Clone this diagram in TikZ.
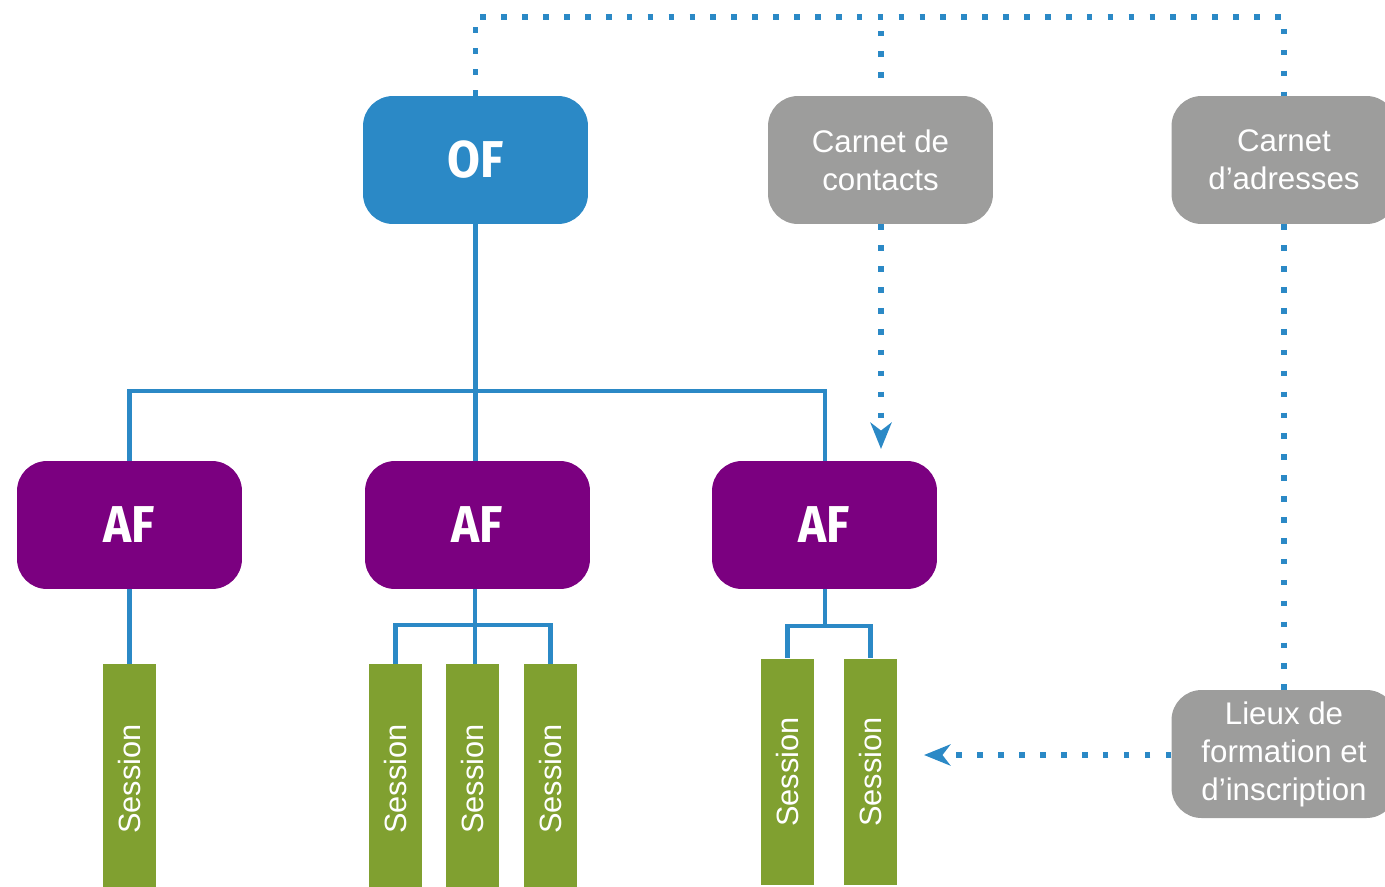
\documentclass[tikz,border=0pt]{standalone}
\usepackage{fontspec}
\usepackage{graphicx}
\setmainfont{Liberation Sans}
\newfontfamily\heavyfont{Fira Sans}[FakeStretch=0.92]
\usetikzlibrary{arrows.meta}
\definecolor{ofblue}{RGB}{43,137,198}
\definecolor{afpurple}{RGB}{123,0,128}
\definecolor{sessgreen}{RGB}{128,160,48}
\definecolor{boxgray}{RGB}{157,157,156}
\tikzset{
  bigbox/.style={rounded corners=0.6cm, minimum width=4.5cm, minimum height=2.56cm, inner sep=0pt, text=white},
  ofbox/.style={bigbox, fill=ofblue, font=\heavyfont\bfseries\fontsize{29.5}{32}\selectfont},
  afbox/.style={bigbox, fill=afpurple, font=\heavyfont\bfseries\fontsize{29.5}{32}\selectfont},
  graybox/.style={bigbox, fill=boxgray, align=center, font=\fontsize{17.8}{21.6}\selectfont},
  sessbox/.style={fill=sessgreen, minimum width=1.06cm, inner sep=0pt, text=white, font=\fontsize{17.5}{21}\selectfont},
  conn/.style={draw=ofblue, line width=2.3pt},
  dots/.style={draw=ofblue, line width=3.2pt, dash pattern=on 3.2pt off 8.7pt},
  dotarrow/.style={dots, -{Stealth[length=15pt, width=12pt, inset=4.5pt, fill=ofblue]}}
}
\begin{document}
\begin{tikzpicture}[x=0.02cm,y=-0.02cm]
\useasboundingbox (0,0) rectangle (1385,886);
\clip (0,0) rectangle (1385,886);
% main boxes
\node[ofbox] (of) at (475.5,160) {OF};
\node[graybox] (cc) at (880.5,160) {Carnet de\\contacts};
\node[graybox] (adr) at (1284,160) {Carnet\\d’adresses};
\node[graybox] (lieux) at (1284,754) {Lieux de\\formation et\\d’inscription};
\node[afbox] (af1) at (129.5,525) {AF};
\node[afbox] (af2) at (477.5,525) {AF};
\node[afbox] (af3) at (824.5,525) {AF};
% sessions
\tikzset{sessA/.style={sessbox, minimum height=4.6cm}, sessB/.style={sessbox, minimum height=4.54cm}}
\node[sessA] (s11) at (129.5,779) {\rotatebox{90}{Session}};
\node[sessA] (s21) at (395.5,779) {\rotatebox{90}{Session}};
\node[sessA] (s22) at (472.5,779) {\rotatebox{90}{Session}};
\node[sessA] (s23) at (550.5,779) {\rotatebox{90}{Session}};
\node[sessB] (s31) at (787.5,772) {\rotatebox{90}{Session}};
\node[sessB] (s32) at (870.5,772) {\rotatebox{90}{Session}};
% helper coordinates
\coordinate (hbar) at (475,391);
\coordinate (b2) at (475,625);
\coordinate (b3) at (825,626);
\coordinate (top) at (475,17);
\coordinate (ccstub) at (881,78);
\coordinate (af3in) at (881,449);
\coordinate (sessin) at (924,755);
% solid tree connectors
\draw[conn] (of.south) -- (of.south |- af2.north);
\draw[conn] (af1.north) |- (hbar) -| (825,461);
\draw[conn] (af1.south) -- (s11.north);
\draw[conn] (475,589) -- (475,664);
\draw[conn] (s21.north) |- (b2) -| (s23.north);
\draw[conn] (825,589) -- (b3);
\draw[conn] (s31.north) |- (b3) -| (s32.north);
% dotted links
\draw[dots] (of.north) -- (of.north |- top) -| (adr.north);
\draw[dots] (ccstub) -- (ccstub |- top);
\draw[dotarrow] (cc.south -| af3in) -- (af3in);
\draw[dots] (adr.south) -- (lieux.north);
\draw[dotarrow] (lieux.west |- sessin) -- (sessin);
\end{tikzpicture}
\end{document}
